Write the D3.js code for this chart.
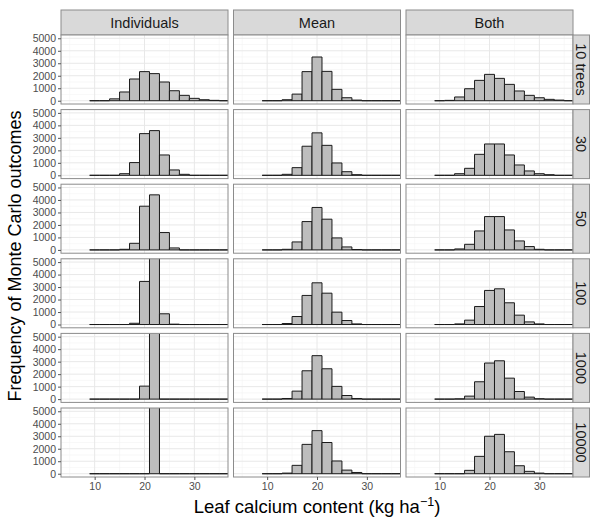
<!DOCTYPE html>
<html>
<head>
<meta charset="utf-8">
<script src="https://cdn.jsdelivr.net/npm/d3@7"></script>
<style>
  body { margin: 0; background: #fff; }
  text { font-family: "Liberation Sans", Arial, sans-serif; }
</style>
</head>
<body>
<div id="chart"></div>
<script>
// bin centres (width 2), shared by every facet
const binCenters = [10, 12, 14, 16, 18, 20, 22, 24, 26, 28, 30, 32, 34, 36];
const binWidth = 2;

const columns = ["Individuals", "Mean", "Both"];
const rows = ["10 trees", "30", "50", "100", "1000", "10000"];

const xTicks = [10, 20, 30];
const xMinor = [5, 15, 25, 35];
const yTicks = [0, 1000, 2000, 3000, 4000, 5000];
const yMinor = [500, 1500, 2500, 3500, 4500];

// counts per row (10 trees ... 10000), one value per bin centre
const countsIndividuals = [
  [0, 0, 150, 700, 1740, 2330, 2170, 1500, 800, 430, 190, 80, 30, 0],
  [0, 0, 0, 130, 1020, 3340, 3580, 1630, 430, 80, 0, 0, 0, 0],
  [0, 0, 0, 50, 530, 3500, 4410, 1390, 160, 0, 0, 0, 0, 0],
  [0, 0, 0, 0, 100, 3450, 5560, 860, 30, 0, 0, 0, 0, 0],
  [0, 0, 0, 0, 0, 1040, 8960, 0, 0, 0, 0, 0, 0, 0],
  [0, 0, 0, 0, 0, 0, 10000, 0, 0, 0, 0, 0, 0, 0]
];
const countsMean = [
  [0, 0, 80, 530, 2330, 3500, 2350, 910, 240, 50, 0, 0, 0, 0],
  [0, 0, 80, 615, 2330, 3400, 2400, 990, 290, 50, 0, 0, 0, 0],
  [0, 0, 50, 640, 2270, 3400, 2460, 960, 240, 30, 0, 0, 0, 0],
  [0, 0, 80, 640, 2330, 3340, 2510, 990, 320, 50, 0, 0, 0, 0],
  [0, 0, 50, 640, 2270, 3480, 2430, 1020, 290, 50, 0, 0, 0, 0],
  [0, 0, 50, 670, 2350, 3450, 2500, 1020, 290, 100, 0, 0, 0, 0]
];
const countsBoth = [
  [0, 30, 300, 960, 1630, 2110, 1790, 1310, 780, 430, 240, 110, 50, 0],
  [0, 0, 130, 560, 1680, 2510, 2510, 1630, 830, 350, 130, 50, 0, 0],
  [0, 0, 80, 450, 1520, 2670, 2670, 1600, 720, 270, 50, 0, 0, 0],
  [0, 0, 50, 350, 1440, 2730, 2860, 1740, 750, 210, 50, 0, 0, 0],
  [0, 0, 20, 240, 1390, 2890, 3070, 1680, 610, 160, 30, 0, 0, 0],
  [0, 0, 0, 270, 1390, 3000, 3150, 1760, 640, 190, 50, 0, 0, 0]
];
const countsByColumn = [countsIndividuals, countsMean, countsBoth];

const width = 590, height = 517;
const panelLeft = 61, panelTop = 35;
const panelW = 167, panelH = 69;
const colStep = 172.5, rowStep = 74.6;
const stripH = 25, stripW = 16.5;

const svg = d3.select("#chart").append("svg")
  .attr("width", width).attr("height", height)
  .attr("viewBox", [0, 0, width, height]);

const x = d3.scaleLinear().domain([3.25, 36.75]).range([0, panelW]);
const y = d3.scaleLinear().domain([-262.5, 5262.5]).range([panelH, 0]);

const borderColor = "#8c8c8c";

columns.forEach((col, ci) => {
  const px = panelLeft + ci * colStep;

  // top strip
  const strip = svg.append("g").attr("transform", `translate(${px},${panelTop - stripH})`);
  strip.append("rect").attr("width", panelW).attr("height", stripH)
    .attr("fill", "#d9d9d9").attr("stroke", borderColor);
  strip.append("text").attr("x", panelW / 2).attr("y", stripH / 2 + 5)
    .attr("text-anchor", "middle").attr("font-size", 14.5).attr("fill", "#1a1a1a")
    .text(col);

  rows.forEach((row, ri) => {
    const py = panelTop + ri * rowStep;
    const g = svg.append("g").attr("transform", `translate(${px},${py})`);
    const clipId = `clip-${ci}-${ri}`;
    g.append("clipPath").attr("id", clipId)
      .append("rect").attr("width", panelW).attr("height", panelH);

    g.append("rect").attr("width", panelW).attr("height", panelH).attr("fill", "#fff");

    // grid
    g.selectAll(".ym").data(yMinor).join("line")
      .attr("x1", 0).attr("x2", panelW).attr("y1", d => y(d)).attr("y2", d => y(d))
      .attr("stroke", "#f4f4f4").attr("stroke-width", 0.6);
    g.selectAll(".xm").data(xMinor).join("line")
      .attr("y1", 0).attr("y2", panelH).attr("x1", d => x(d)).attr("x2", d => x(d))
      .attr("stroke", "#f4f4f4").attr("stroke-width", 0.6);
    g.selectAll(".yM").data(yTicks).join("line")
      .attr("x1", 0).attr("x2", panelW).attr("y1", d => y(d)).attr("y2", d => y(d))
      .attr("stroke", "#e8e8e8").attr("stroke-width", 1);
    g.selectAll(".xM").data(xTicks).join("line")
      .attr("y1", 0).attr("y2", panelH).attr("x1", d => x(d)).attr("x2", d => x(d))
      .attr("stroke", "#e8e8e8").attr("stroke-width", 1);

    // histogram bars (paths so zero bins still draw a line)
    const counts = countsByColumn[ci][ri];
    const bins = binCenters.map((c, i) => ({ c, n: counts[i] }));
    g.append("g").attr("clip-path", `url(#${clipId})`)
      .selectAll("path").data(bins).join("path")
      .attr("d", d => {
        const x0 = x(d.c - binWidth / 2), x1 = x(d.c + binWidth / 2);
        return `M${x0},${y(0)}V${y(d.n)}H${x1}V${y(0)}Z`;
      })
      .attr("fill", "#bdbdbd").attr("stroke", "#1a1a1a").attr("stroke-width", 1);

    g.append("rect").attr("width", panelW).attr("height", panelH)
      .attr("fill", "none").attr("stroke", borderColor);

    // y axis on first column
    if (ci === 0) {
      g.append("g")
        .call(d3.axisLeft(y).tickValues(yTicks).tickFormat(d3.format("d")).tickSize(3).tickPadding(2))
        .call(a => a.select(".domain").remove())
        .call(a => a.selectAll("line").attr("stroke", "#555"))
        .call(a => a.selectAll("text").attr("fill", "#4d4d4d")
          .attr("font-size", 10.5).attr("font-family", "Liberation Sans, Arial, sans-serif"));
    }
    // x axis on bottom row
    if (ri === rows.length - 1) {
      g.append("g").attr("transform", `translate(0,${panelH})`)
        .call(d3.axisBottom(x).tickValues(xTicks).tickFormat(d3.format("d")).tickSize(3).tickPadding(3))
        .call(a => a.select(".domain").remove())
        .call(a => a.selectAll("line").attr("stroke", "#555"))
        .call(a => a.selectAll("text").attr("fill", "#4d4d4d")
          .attr("font-size", 10.5).attr("font-family", "Liberation Sans, Arial, sans-serif"));
    }
    // right strip on last column
    if (ci === columns.length - 1) {
      const rs = svg.append("g").attr("transform", `translate(${px + panelW},${py})`);
      rs.append("rect").attr("width", stripW).attr("height", panelH)
        .attr("fill", "#d9d9d9").attr("stroke", borderColor);
      rs.append("text")
        .attr("transform", `translate(${stripW / 2 - 5},${panelH / 2}) rotate(90)`)
        .attr("text-anchor", "middle").attr("font-size", 14.5).attr("fill", "#1a1a1a")
        .text(row);
    }
  });
});

// axis titles
const plotBottom = panelTop + (rows.length - 1) * rowStep + panelH;
const plotRight = panelLeft + (columns.length - 1) * colStep + panelW;
const xTitle = svg.append("text")
  .attr("x", (panelLeft + plotRight) / 2).attr("y", 513)
  .attr("text-anchor", "middle").attr("font-size", 18.5).attr("fill", "#000");
xTitle.append("tspan").text("Leaf calcium content (kg ha");
xTitle.append("tspan").attr("baseline-shift", "super").attr("font-size", 12.5).text("\u22121");
xTitle.append("tspan").text(")");

svg.append("text")
  .attr("transform", `translate(21,${(panelTop + plotBottom) / 2}) rotate(-90)`)
  .attr("text-anchor", "middle").attr("font-size", 18).attr("fill", "#000")
  .text("Frequency of Monte Carlo outcomes");
</script>
</body>
</html>
